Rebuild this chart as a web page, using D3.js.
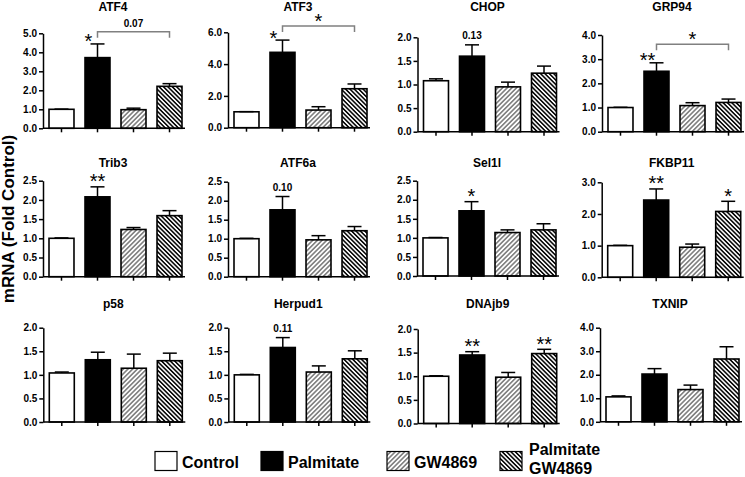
<!DOCTYPE html>
<html><head><meta charset="utf-8">
<script src="https://cdn.jsdelivr.net/npm/d3@7"></script>
<style>
body{margin:0;background:#fff}
svg{display:block}
text{font-family:"Liberation Sans",Arial,Helvetica,sans-serif}
</style>
</head><body>
<svg id="c" width="745" height="477"></svg>
<script>
// ---------------- data ----------------
const genes = ["ATF4","ATF3","CHOP","GRP94","Trib3","ATF6a","Sel1l","FKBP11","p58","Herpud1","DNAjb9","TXNIP"];
const groups = ["Control","Palmitate","GW4869","Palmitate GW4869"];
const means = [
  [1.00, 3.72, 0.98, 2.21],
  [1.00, 4.74, 1.11, 2.45],
  [1.08, 1.60, 0.95, 1.24],
  [1.00, 2.50, 1.08, 1.21],
  [1.00, 2.08, 1.23, 1.59],
  [1.00, 1.76, 0.97, 1.21],
  [1.00, 1.71, 1.14, 1.21],
  [1.00, 2.44, 0.95, 2.08],
  [1.04, 1.32, 1.14, 1.30],
  [1.00, 1.58, 1.06, 1.34],
  [1.00, 1.45, 0.98, 1.48],
  [1.06, 2.03, 1.37, 2.67]
];
const errs = [
  [0.01, 0.72, 0.08, 0.14],
  [0.01, 0.77, 0.21, 0.30],
  [0.04, 0.24, 0.10, 0.15],
  [0.01, 0.35, 0.12, 0.14],
  [0.01, 0.26, 0.05, 0.13],
  [0.01, 0.35, 0.11, 0.11],
  [0.01, 0.24, 0.07, 0.16],
  [0.01, 0.35, 0.10, 0.32],
  [0.02, 0.16, 0.30, 0.16],
  [0.01, 0.21, 0.13, 0.17],
  [0.01, 0.07, 0.10, 0.09],
  [0.04, 0.23, 0.19, 0.52]
];
const yMaxes = [5, 6, 2, 4, 2.5, 2.5, 2.5, 3, 2, 2, 2, 4];
const yTickSteps = [1, 2, 0.5, 1, 0.5, 0.5, 0.5, 1, 0.5, 0.5, 0.5, 1];
const yAxisTitle = "mRNA (Fold Control)";
// significance marks above single bars
const sigPanel = [0, 1, 2, 3, 4, 5, 6, 7, 7, 9, 10, 10];
const sigBar   = [1, 1, 1, 1, 1, 1, 1, 1, 3, 1, 1, 3];
const sigText  = ["*", "*", "0.13", "**", "**", "0.10", "*", "**", "*", "0.11", "**", "**"];
// comparison brackets
const brPanel = [0, 1, 3];
const brFrom  = [1, 1, 1];
const brTo    = [3, 3, 3];
const brLevel = [5.08, 6.4, 3.62];
const brText  = ["0.07", "*", "*"];

// ---------------- layout ----------------
const colX   = [[43, 228, 417.5, 602], [43, 228, 417, 601.7], [43.3, 228.3, 417.7, 600]];
const rowTop = [[33.3, 32.3, 37.3, 35], [180.7, 181.7, 180.7, 182.3], [327.7, 327.7, 329, 327.7]];
const rowBot = [[128.3, 127.7, 131.7, 131.7], [276.7, 276.7, 276, 277.3], [422, 422, 423.5, 421.8]];
const titleBase = [11, 166.5, 307.5];
const FONT = '"Liberation Sans",Arial,Helvetica,sans-serif';

const svg = d3.select("#c");
svg.append("rect").attr("width", 745).attr("height", 477).attr("fill", "#fff");

// hatch patterns
const defs = svg.append("defs");
function hatch(id, angle, size, color, w) {
  const p = defs.append("pattern").attr("id", id)
    .attr("patternUnits", "userSpaceOnUse")
    .attr("width", size).attr("height", size)
    .attr("patternTransform", `rotate(${angle})`);
  p.append("rect").attr("width", size).attr("height", size).attr("fill", "#fff");
  p.append("line").attr("x1", size / 2).attr("y1", 0).attr("x2", size / 2).attr("y2", size)
    .attr("stroke", color).attr("stroke-width", w);
}
hatch("hGW", 45, 3.3, "#3a3a3a", 1.05);
hatch("hPG", -45, 3.1, "#0a0a0a", 1.6);
const fills = ["#fff", "#000", "url(#hGW)", "url(#hPG)"];

const panels = [];
genes.forEach((g, i) => {
  const r = Math.floor(i / 4), c = i % 4;
  const x0 = colX[r][c], top = rowTop[r][c], bot = rowBot[r][c];
  const x = d3.scaleBand().domain(groups).range([x0 + 6, x0 + 139]).paddingInner(0.306).paddingOuter(0);
  const y = d3.scaleLinear().domain([0, yMaxes[i]]).range([bot, top]);
  panels.push({x, y, x0, bot});
  const gp = svg.append("g");

  // bars
  gp.selectAll("rect.bar").data(groups).enter().append("rect")
    .attr("x", d => x(d)).attr("width", x.bandwidth())
    .attr("y", (d, k) => y(means[i][k]))
    .attr("height", (d, k) => bot - y(means[i][k]))
    .attr("fill", (d, k) => fills[k])
    .attr("stroke", "#000").attr("stroke-width", 1.6);

  // error bars (upper only)
  groups.forEach((d, k) => {
    const cx = x(d) + x.bandwidth() / 2;
    const yt = y(means[i][k] + errs[i][k]), yb = y(means[i][k]);
    gp.append("line").attr("x1", cx).attr("x2", cx).attr("y1", yb).attr("y2", yt)
      .attr("stroke", "#000").attr("stroke-width", 1.5);
    gp.append("line").attr("x1", cx - 7).attr("x2", cx + 7).attr("y1", yt).attr("y2", yt)
      .attr("stroke", "#000").attr("stroke-width", 1.5);
  });

  // y axis
  const ticks = d3.range(0, yMaxes[i] + 1e-9, yTickSteps[i]);
  const ya = gp.append("g").attr("transform", `translate(${x0},0)`)
    .call(d3.axisLeft(y).tickValues(ticks).tickSize(4).tickSizeOuter(0).tickPadding(2).tickFormat(d3.format(".1f")));
  ya.select(".domain").attr("stroke-width", 1.5);
  ya.selectAll(".tick line").attr("stroke-width", 1.5);
  ya.selectAll("text").attr("font-family", FONT).attr("font-size", 10).attr("font-weight", "bold").attr("fill", "#000");

  // x axis
  gp.append("line").attr("x1", x0).attr("x2", x0 + 142).attr("y1", bot).attr("y2", bot)
    .attr("stroke", "#000").attr("stroke-width", 1.5);
  const xa = gp.append("g").attr("transform", `translate(0,${bot})`)
    .call(d3.axisBottom(x).tickSize(4).tickSizeOuter(0).tickFormat(""));
  xa.select(".domain").remove();
  xa.selectAll(".tick line").attr("stroke-width", 1.5);

  // title
  gp.append("text").attr("x", x0 + 70).attr("y", titleBase[r])
    .attr("text-anchor", "middle").attr("font-size", 12).attr("font-weight", "bold").text(g);
});

// significance labels
function drawLabel(cx, cy, txt) {
  if (txt.indexOf("*") >= 0) {
    svg.append("text").attr("x", cx).attr("y", cy + 10.5).attr("text-anchor", "middle")
      .attr("font-size", 20).attr("font-family", FONT).text(txt);
  } else {
    svg.append("text").attr("x", cx).attr("y", cy + 3.6).attr("text-anchor", "middle")
      .attr("font-size", 10).attr("font-weight", "bold").attr("font-family", FONT).text(txt);
  }
}
sigPanel.forEach((pi, j) => {
  const P = panels[pi], k = sigBar[j];
  const hasBracket = brPanel.some((bp, q) => bp === pi && brFrom[q] === k);
  const cx = P.x(groups[k]) + P.x.bandwidth() / 2 + (hasBracket ? -9 : 0);
  const cy = P.y(means[pi][k] + errs[pi][k]) - (hasBracket ? 6 : 9);
  drawLabel(cx, cy, sigText[j]);
});

// brackets
brPanel.forEach((pi, q) => {
  const P = panels[pi];
  const xa = P.x(groups[brFrom[q]]) + P.x.bandwidth() / 2;
  const xb = P.x(groups[brTo[q]]) + P.x.bandwidth() / 2;
  const yy = P.y(brLevel[q]);
  svg.append("path").attr("d", `M${xa},${yy + 6}V${yy}H${xb}V${yy + 6}`)
    .attr("fill", "none").attr("stroke", "#808080").attr("stroke-width", 1.5);
  drawLabel((xa + xb) / 2, yy - 8.5, brText[q]);
});

// y axis title
svg.append("text").attr("transform", "translate(13.5,219) rotate(-90)")
  .attr("text-anchor", "middle").attr("font-size", 17).attr("font-weight", "bold")
  .attr("font-family", FONT).text(yAxisTitle);

// legend
const legX = [155, 261, 387, 500];
groups.forEach((gname, k) => {
  svg.append("rect").attr("x", legX[k]).attr("y", 451.5).attr("width", 22).attr("height", 19)
    .attr("fill", fills[k]).attr("stroke", "#000").attr("stroke-width", 1.2);
  const lines = k === 3 ? gname.split(" ") : [gname];
  const t = svg.append("text").attr("font-size", 16).attr("font-weight", "bold").attr("font-family", FONT);
  if (lines.length === 1) {
    t.attr("x", legX[k] + 27).attr("y", 468).text(lines[0]);
  } else {
    lines.forEach((ln, m) => t.append("tspan").attr("x", legX[k] + 29).attr("y", 455 + m * 18.5).text(ln));
  }
});
</script>
</body></html>
